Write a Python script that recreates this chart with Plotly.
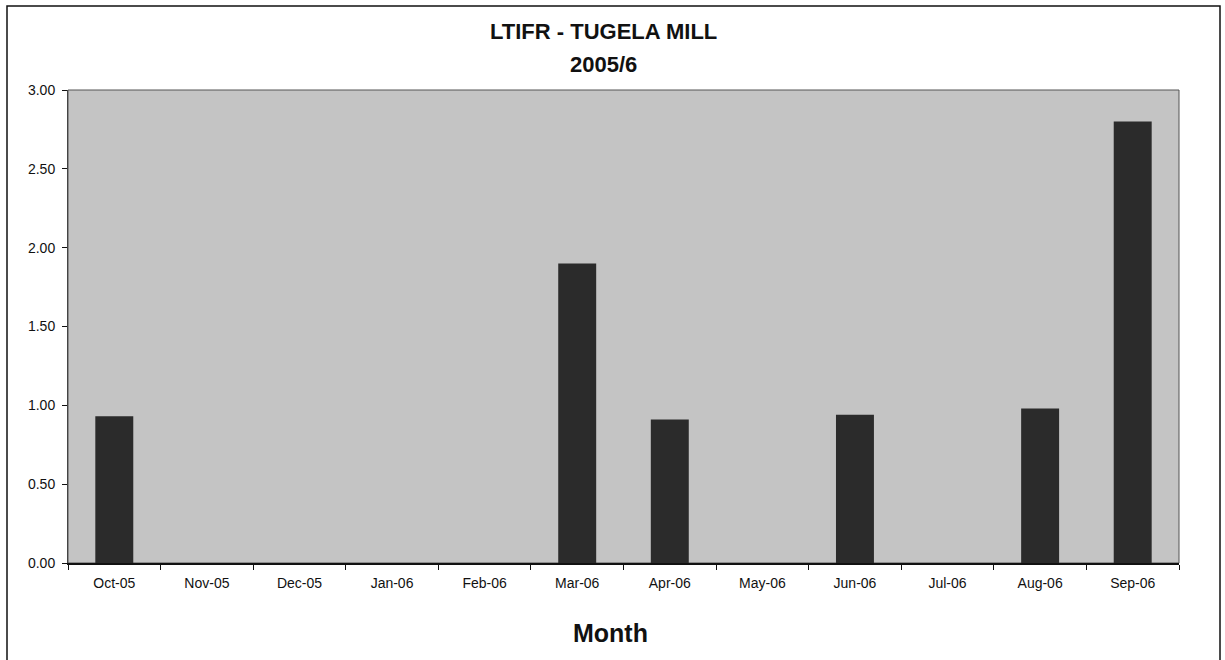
import plotly.graph_objects as go

months = ["Oct-05", "Nov-05", "Dec-05", "Jan-06", "Feb-06", "Mar-06",
          "Apr-06", "May-06", "Jun-06", "Jul-06", "Aug-06", "Sep-06"]
ltifr = [0.93, 0, 0, 0, 0, 1.90, 0.91, 0, 0.94, 0, 0.98, 2.80]
y_ticks = [0, 0.5, 1.0, 1.5, 2.0, 2.5, 3.0]
y_labels = ["0.00", "0.50", "1.00", "1.50", "2.00", "2.50", "3.00"]

W, H = 1225, 660
L, R, T, B = 68, 46, 90, 97
PW, PH = W - L - R, H - T - B


def px_x(x):
    return (x - L) / PW


def px_y(y):
    return (H - B - y) / PH


fig = go.Figure()
fig.add_trace(go.Bar(
    x=months, y=ltifr,
    marker=dict(color="#2b2b2b", line=dict(width=0)),
    width=0.41,
))

fig.update_layout(
    width=W, height=H,
    margin=dict(l=L, r=R, t=T, b=B),
    paper_bgcolor="white",
    plot_bgcolor="#c4c4c4",
    showlegend=False,
    font=dict(family="Arial, Liberation Sans, sans-serif", color="#111"),
    xaxis=dict(
        type="category",
        tickson="boundaries",
        ticks="outside", ticklen=5, tickcolor="#111",
        showline=True, linecolor="#111", linewidth=1.5,
        showgrid=False,
        ticklabelstandoff=6,
        tickfont=dict(size=14, color="#111"),
    ),
    yaxis=dict(
        range=[0, 3.0],
        tickvals=y_ticks, ticktext=y_labels,
        ticks="outside", ticklen=5, tickcolor="#111",
        showline=True, linecolor="#444", linewidth=1,
        showgrid=False, zeroline=False,
        ticklabelstandoff=4,
        tickfont=dict(size=14, color="#111"),
    ),
    bargap=0.59,
)

fig.add_annotation(text="<b>LTIFR - TUGELA MILL</b>", xref="paper", yref="paper",
                   x=px_x(603), y=px_y(32), xanchor="center", yanchor="middle",
                   showarrow=False, font=dict(size=22, color="#111"))
fig.add_annotation(text="<b>2005/6</b>", xref="paper", yref="paper",
                   x=px_x(603), y=px_y(64), xanchor="center", yanchor="middle",
                   showarrow=False, font=dict(size=22, color="#111"))
fig.add_annotation(text="<b>Month</b>", xref="paper", yref="paper",
                   x=px_x(610), y=px_y(633), xanchor="center", yanchor="middle",
                   showarrow=False, font=dict(size=25, color="#111"))

# outer chart frame
fig.add_shape(type="rect", xref="paper", yref="paper",
              x0=px_x(7), x1=px_x(1220), y0=px_y(670), y1=px_y(6),
              line=dict(color="#111", width=1.5), fillcolor="rgba(0,0,0,0)")
# plot-area frame
fig.add_shape(type="rect", xref="paper", yref="paper", x0=0, x1=1, y0=0, y1=1,
              line=dict(color="#555", width=1), fillcolor="rgba(0,0,0,0)", layer="below")

fig.write_html("out.html")
